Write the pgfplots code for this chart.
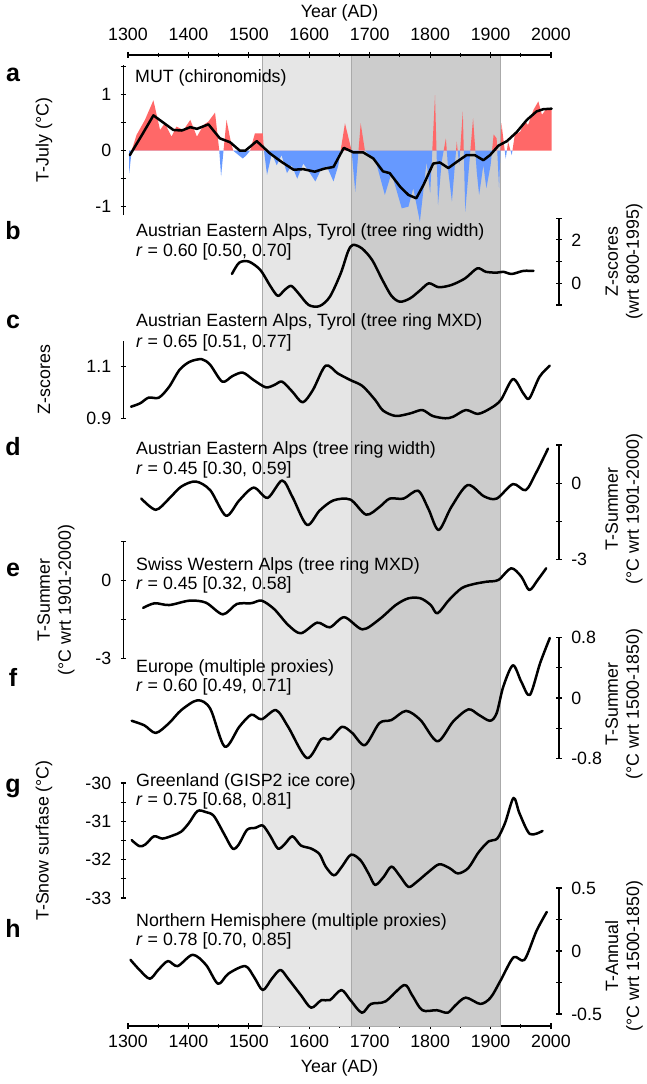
\documentclass[border=0pt]{standalone}
\usepackage{fontspec}
\setmainfont{Liberation Sans}
\usepackage{pgfplots}
\pgfplotsset{compat=1.18}
\definecolor{redA}{RGB}{255,104,104}
\definecolor{blueA}{RGB}{102,153,255}
\definecolor{shadeL}{RGB}{230,230,230}
\definecolor{shadeD}{RGB}{204,204,204}
\definecolor{shadeE}{RGB}{170,170,170}
\newcommand{\fs}{\fontsize{17.8}{21}\selectfont}
\pgfplotsset{
 panel/.style={scale only axis, width=435.5pt, xmin=1292.5, xmax=2013.2, anchor=south west,
   clip=false, axis x line=none,
   tick style={line width=1.1pt, black}, tick align=outside, major tick length=5.5pt,
   yticklabel style={font=\fs}},
 leftp/.style={panel, axis y line=left, y axis line style={-, line width=1.1pt},
   yticklabel style={xshift=-6pt}},
 rightp/.style={panel, axis y line=right, y axis line style={-, line width=1.1pt},
   yticklabel style={xshift=6pt}},
 curve/.style={black, line width=2.5pt, smooth, line join=round, line cap=round},
 frame/.style={scale only axis, width=423pt, height=971pt, at={(128pt,58pt)}, anchor=south west,
   xmin=1300, xmax=2000, ymin=0, ymax=1, axis y line=none,
   tick style={line width=1.1pt, black}, tick align=outside, major tick length=6pt, minor tick length=4.5pt,
   xtick={1300,1400,...,2000}, minor xtick={1350,1450,...,1950},
   xticklabels={1300,1400,1500,1600,1700,1800,1900,2000},
   xticklabel style={font=\fs}, xlabel style={font=\fs}, xlabel={Year (AD)}},
}
\begin{document}
\begin{tikzpicture}[x=1pt,y=1pt,font=\fs]
\useasboundingbox (0,0) rectangle (646,1084);
% frame with shading, bottom year axis
\begin{axis}[frame, axis x line=bottom, x axis line style={-, line width=1.1pt},
  xticklabel style={yshift=-3pt}, xlabel style={yshift=-5pt}]
\addplot[fill=shadeL, draw=shadeE, line width=0.8pt] coordinates {(1523,0) (1523,1) (1669,1) (1669,0)} --cycle;
\addplot[fill=shadeD, draw=shadeE, line width=0.8pt] coordinates {(1669,0) (1669,1) (1916,1) (1916,0)} --cycle;
\end{axis}
% top year axis
\begin{axis}[frame, axis x line=top, x axis line style={-, line width=1.1pt},
  xticklabel style={yshift=8pt}, xlabel style={yshift=0pt}]
\addplot[draw=none] coordinates {(1300,0) (2000,1)};
\end{axis}
% panel a
\begin{axis}[leftp, height=150.1pt, at={(123.5pt,868.9pt)}, ymin=-1.15, ymax=1.53,
  ytick={-1,-0.5,0,0.5,1,1.5}, yticklabels={-1,,0,,1,}]
% positive part of the anomalies
\addplot[fill=redA, draw=none] coordinates {
(1302,0) (1306,0) (1314,0.28) (1328,0.55) (1342,0.90) (1353,0.37) (1361,0.49) (1372,0.25) (1380,0.43)
(1392,0.37) (1403,0.55) (1414,0.25) (1425,0.46) (1433,0.52) (1444,0.68) (1451,0) (1458,0) (1463,0.55)
(1469,0.22) (1474,0) (1502,0) (1510,0.31) (1523,0.31) (1525,0) (1651.8,0) (1659,0.49) (1670,0)
(1681.4,0) (1685,0.49) (1692,0) (1803.5,0) (1808,0.99) (1810.5,0) (1822.3,0) (1826,0.22) (1827.5,0)
(1842.8,0) (1844,0.16) (1845.5,0) (1849.6,0) (1854,0.70) (1855.6,0) (1866.5,0) (1871,0.58) (1874.7,0)
(1902.4,0) (1905,0.29) (1910,0.22) (1911,0) (1916.3,0) (1918,0.49) (1923.4,0) (1926.9,0) (1929,0.16)
(1933,0) (1936.1,0) (1940,0.28) (1949,0.34) (1957,0.52) (1962,0.46) (1971,0.73) (1979,0.88) (1985,0.64)
(1993,0.76) (2001,0.76) (2001,0)} --cycle;
% negative part of the anomalies
\addplot[fill=blueA, draw=none] coordinates {
(1302,0) (1302,-0.40) (1306,0) (1451,0) (1454,-0.46) (1458,0) (1474,0) (1483,-0.08) (1490,-0.14)
(1496,-0.08) (1502,0) (1525,0) (1530,-0.43) (1538,-0.05) (1546,-0.26) (1554,-0.08) (1563,-0.40)
(1571,-0.26) (1580,-0.50) (1590,-0.23) (1598,-0.35) (1610,-0.55) (1620,-0.32) (1629,-0.28) (1640,-0.55)
(1648,-0.26) (1651.8,0) (1670,0) (1676,-0.73) (1681.4,0) (1692,0) (1700,-0.08) (1711,-0.23) (1725,-0.79)
(1736,-0.40) (1753,-1.03) (1764,-1.0) (1772,-0.67) (1783,-1.27) (1794,-0.20) (1800,-0.76) (1803.5,0)
(1810.5,0) (1813,-0.97) (1819,-0.20) (1822.3,0) (1827.5,0) (1830,-0.37) (1836,-0.91) (1842.8,0)
(1845.5,0) (1848,-0.26) (1849.6,0) (1855.6,0) (1858,-1.09) (1865,-0.20) (1866.5,0) (1874.7,0)
(1877,-0.37) (1881,-0.79) (1888,-0.26) (1893,-0.67) (1900,-0.26) (1902.4,0) (1911,0) (1914,-0.67)
(1916.3,0) (1923.4,0) (1925,-0.14) (1926.9,0) (1933,0) (1935,-0.08) (1936.1,0)} --cycle;
\addplot[black, line width=2.5pt, line join=round, line cap=round] coordinates {
(1303,-0.08) (1323,0.28) (1342,0.63) (1356,0.52) (1375,0.37) (1389,0.36) (1403,0.42) (1414,0.39)
(1433,0.47) (1452,0.22) (1469,0.15) (1485,0.0) (1494,0.0) (1513,0.17) (1535,-0.05) (1554,-0.2)
(1574,-0.34) (1590,-0.33) (1609,-0.375) (1625,-0.32) (1640,-0.29) (1657,0.05) (1673,-0.03) (1689,-0.03)
(1706,-0.14) (1722,-0.37) (1733,-0.40) (1750,-0.64) (1764,-0.79) (1777,-0.85) (1789,-0.61) (1805,-0.23)
(1816,-0.21) (1830,-0.31) (1844,-0.20) (1860,-0.08) (1874,-0.08) (1888,-0.17) (1899,-0.08) (1913,0.09)
(1927,0.17) (1943,0.33) (1960,0.55) (1976,0.70) (1987,0.74) (2001,0.75)};
\end{axis}
% panel b
\begin{axis}[rightp, height=86.8pt, at={(123.5pt,779.0pt)}, ymin=-1, ymax=3,
  ytick={-1,0,1,2,3}, yticklabels={,0,,2,}]
\addplot[curve] coordinates {
(1472,0.43) (1484,0.95) (1500,1.00) (1519,0.61) (1536,-0.15) (1548,-0.58) (1559,-0.31) (1570,-0.12)
(1582,-0.46) (1599,-1.00) (1617,-1.05) (1634,-0.62) (1652,0.46) (1664,1.46) (1672,1.77) (1687,1.61)
(1704,1.07) (1721,0.15) (1736,-0.58) (1750,-0.85) (1767,-0.69) (1784,-0.31) (1798,0.00) (1814,-0.18)
(1835,-0.08) (1858,0.23) (1878,0.69) (1892,0.53) (1910,0.49) (1921,0.53) (1935,0.43) (1954,0.57) (1971,0.57)};
\end{axis}
% panel c
\begin{axis}[leftp, height=77.4pt, at={(123.5pt,665.7pt)}, ymin=0.9, ymax=1.2,
  ytick={0.9,1.1}, yticklabels={0.9,1.1}]
\addplot[curve] coordinates {
(1305,0.945) (1320,0.958) (1334,0.98) (1351,0.98) (1368,1.022) (1385,1.087) (1402,1.119) (1422,1.129)
(1436,1.107) (1456,1.042) (1473,1.064) (1490,1.077) (1508,1.048) (1528,1.02) (1542,1.029) (1555,1.042)
(1572,1.003) (1589,0.962) (1606,1.01) (1627,1.104) (1647,1.074) (1668,1.048) (1688,1.025) (1709,0.971)
(1722,0.93) (1743,0.909) (1767,0.919) (1787,0.932) (1804,0.909) (1825,0.9) (1838,0.906) (1859,0.932)
(1879,0.917) (1900,0.939) (1917,0.971) (1937,1.052) (1954,0.997) (1964,0.977) (1981,1.061) (1998,1.104)};
\end{axis}
% panel d
\begin{axis}[rightp, height=114.75pt, at={(123.5pt,524.2pt)}, ymin=-3, ymax=1.5,
  ytick={-3,-1.5,0,1.5}, yticklabels={-3,,0,}]
\addplot[curve] coordinates {
(1322,-0.6) (1346,-1.04) (1368,-0.6) (1388,-0.13) (1412,0.07) (1436,-0.27) (1462,-1.27) (1484,-0.67)
(1508,-0.17) (1531,-0.57) (1555,0.11) (1572,-0.53) (1596,-1.63) (1617,-1.07) (1640,-0.67) (1668,-0.64)
(1694,-1.23) (1716,-0.93) (1733,-0.6) (1756,-0.6) (1780,-0.29) (1797,-1.0) (1814,-1.83) (1835,-0.93)
(1862,-0.07) (1889,-0.51) (1910,-0.6) (1937,-0.03) (1958,-0.27) (1975,0.4) (1995,1.36)};
\end{axis}
% panel e
\begin{axis}[leftp, height=116.55pt, at={(123.5pt,425.6pt)}, ymin=-3, ymax=1.5,
  ytick={-3,-1.5,0,1.5}, yticklabels={-3,,0,}]
\addplot[curve] coordinates {
(1325,-1.05) (1344,-0.87) (1368,-0.94) (1402,-0.77) (1429,-0.85) (1457,-1.30) (1480,-0.90) (1504,-0.87)
(1521,-0.77) (1542,-1.10) (1565,-1.71) (1586,-2.03) (1613,-1.62) (1634,-1.80) (1658,-1.41) (1688,-1.88)
(1716,-1.49) (1743,-0.94) (1764,-0.68) (1784,-0.68) (1801,-0.94) (1812,-1.26) (1831,-0.75) (1852,-0.29)
(1872,-0.13) (1893,-0.04) (1913,0.03) (1934,0.48) (1951,0.15) (1964,-0.36) (1978,0.03) (1992,0.48)};
\end{axis}
% panel f
\begin{axis}[rightp, height=121.6pt, at={(123.5pt,325.2pt)}, ymin=-0.8, ymax=0.8,
  ytick={-0.8,-0.4,0,0.4,0.8}, yticklabels={-0.8,,0,,0.8}]
\addplot[curve] coordinates {
(1306,-0.30) (1327,-0.36) (1346,-0.46) (1368,-0.33) (1388,-0.16) (1415,-0.03) (1436,-0.14) (1460,-0.64)
(1484,-0.38) (1504,-0.22) (1521,-0.28) (1545,-0.16) (1565,-0.38) (1596,-0.79) (1620,-0.54) (1634,-0.54)
(1654,-0.38) (1671,-0.46) (1692,-0.62) (1716,-0.33) (1736,-0.29) (1760,-0.17) (1784,-0.29) (1812,-0.57)
(1838,-0.31) (1863,-0.15) (1880,-0.22) (1899,-0.30) (1910,-0.20) (1921,0.15) (1937,0.43) (1951,0.21)
(1965,0.04) (1982,0.46) (1998,0.79)};
\end{axis}
% panel g
\begin{axis}[leftp, height=115pt, at={(123.5pt,186pt)}, ymin=-33, ymax=-30,
  ytick={-33,-32.5,-32,-31.5,-31,-30.5,-30}, yticklabels={-33,,-32,,-31,,-30}]
\addplot[curve] coordinates {
(1306,-31.49) (1319,-31.65) (1329,-31.60) (1343,-31.39) (1357,-31.45) (1374,-31.37) (1388,-31.27)
(1401,-31.04) (1415,-30.73) (1429,-30.76) (1442,-30.86) (1459,-31.33) (1473,-31.71) (1483,-31.61)
(1497,-31.22) (1511,-31.17) (1523,-31.11) (1535,-31.37) (1548,-31.71) (1559,-31.60) (1572,-31.39)
(1586,-31.63) (1603,-31.71) (1617,-31.86) (1627,-32.18) (1641,-32.41) (1654,-32.18) (1669,-31.87)
(1685,-32.02) (1699,-32.39) (1709,-32.66) (1723,-32.45) (1736,-32.18) (1750,-32.43) (1764,-32.71)
(1777,-32.59) (1798,-32.31) (1815,-32.12) (1832,-32.22) (1846,-32.36) (1863,-32.22) (1880,-31.81)
(1897,-31.52) (1911,-31.45) (1924,-31.04) (1938,-30.39) (1948,-30.80) (1965,-31.33) (1986,-31.25)};
\end{axis}
% panel h
\begin{axis}[rightp, height=126pt, at={(123.5pt,70pt)}, ymin=-0.5, ymax=0.5,
  ytick={-0.5,-0.25,0,0.25,0.5}, yticklabels={-0.5,,0,,0.5}]
\addplot[curve] coordinates {
(1304,-0.07) (1319,-0.15) (1336,-0.22) (1350,-0.15) (1366,-0.08) (1382,-0.12) (1407,-0.03) (1429,-0.11)
(1449,-0.26) (1466,-0.18) (1494,-0.12) (1509,-0.21) (1523,-0.31) (1538,-0.22) (1552,-0.15) (1565,-0.22)
(1586,-0.35) (1603,-0.45) (1620,-0.39) (1634,-0.39) (1653,-0.31) (1668,-0.39) (1687,-0.49) (1702,-0.42)
(1726,-0.40) (1757,-0.27) (1770,-0.35) (1787,-0.47) (1811,-0.47) (1829,-0.49) (1842,-0.43) (1859,-0.37)
(1883,-0.42) (1900,-0.37) (1917,-0.23) (1938,-0.05) (1956,-0.07) (1976,0.16) (1993,0.31)};
\end{axis}
% panel titles
\begin{scope}[every node/.style={anchor=west, inner sep=0pt}]
\node at (135,1006) {MUT (chironomids)};
\node at (136,852.3) {Austrian Eastern Alps, Tyrol (tree ring width)};
\node at (136,832.3) {\textit{r} = 0.60 [0.50, 0.70]};
\node at (136,762.3) {Austrian Eastern Alps, Tyrol (tree ring MXD)};
\node at (136,740.7) {\textit{r} = 0.65 [0.51, 0.77]};
\node at (136,634) {Austrian Eastern Alps (tree ring width)};
\node at (136,614) {\textit{r} = 0.45 [0.30, 0.59]};
\node at (136,518) {Swiss Western Alps (tree ring MXD)};
\node at (136,499) {\textit{r} = 0.45 [0.32, 0.58]};
\node at (136,416) {Europe (multiple proxies)};
\node at (136,397) {\textit{r} = 0.60 [0.49, 0.71]};
\node at (136,302) {Greenland (GISP2 ice core)};
\node at (136,283) {\textit{r} = 0.75 [0.68, 0.81]};
\node at (136,162) {Northern Hemisphere (multiple proxies)};
\node at (136,143) {\textit{r} = 0.78 [0.70, 0.85]};
\end{scope}
% panel letters
\begin{scope}[every node/.style={font=\fontsize{25}{25}\selectfont\bfseries}]
\node at (13,1009) {a};
\node at (13,853) {b};
\node at (13,762) {c};
\node at (13,637) {d};
\node at (13,514) {e};
\node at (13,407) {f};
\node at (13,296) {g};
\node at (13,156) {h};
\end{scope}
% y axis labels
\begin{scope}[every node/.style={rotate=90, align=center, font=\fontsize{17.8}{21}\selectfont}]
\node at (44,944) {T-July (°C)};
\node at (624,822.5) {Z-scores\\(wrt 800-1995)};
\node at (44,704.4) {Z-scores};
\node at (624,575) {T-Summer\\(°C wrt 1901-2000)};
\node at (56,484) {T-Summer\\(°C wrt 1901-2000)};
\node at (624,380) {T-Summer\\(°C wrt 1500-1850)};
\node at (44,243.5) {T-Snow surfase (°C)};
\node at (624,128) {T-Annual\\(°C wrt 1500-1850)};
\end{scope}
\end{tikzpicture}
\end{document}
